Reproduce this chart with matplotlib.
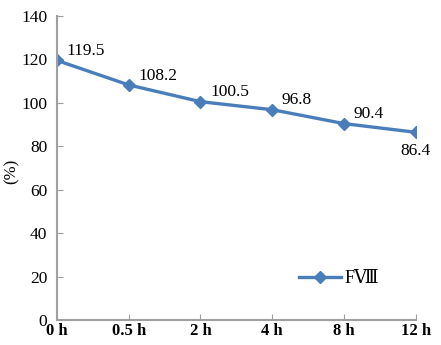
import matplotlib.pyplot as plt

# data
times = ['0 h', '0.5 h', '2 h', '4 h', '8 h', '12 h']
fviii = [119.5, 108.2, 100.5, 96.8, 90.4, 86.4]
yticks = [0, 20, 40, 60, 80, 100, 120, 140]

plt.rcParams['font.family'] = ['Liberation Serif', 'DejaVu Serif']

fig = plt.figure(figsize=(4.41, 3.45), dpi=100)
ax = fig.add_axes([0.129, 0.0725, 0.814, 0.8815])

x = list(range(len(times)))
ax.plot(x, fviii, color='#4a7ebb', lw=2.4, marker='D', ms=6.5, label='FⅧ')

# value labels
for i, v in enumerate(fviii):
    if i == len(fviii) - 1:
        ax.annotate(f'{v}', (i, v), xytext=(0, -8), textcoords='offset points',
                    ha='center', va='top', fontsize=12.5)
    else:
        ax.annotate(f'{v}', (i, v), xytext=(7, 1), textcoords='offset points',
                    ha='left', va='bottom', fontsize=12.5)

ax.set_xlim(0, len(times) - 1)
ax.set_ylim(0, 140)
ax.set_xticks(x)
ax.set_xticklabels(times, fontsize=12, fontweight='bold')
ax.set_yticks(yticks)
ax.tick_params(axis='y', labelsize=12.5, length=4, direction='in',
               color='#a0a0a0', pad=7)
ax.tick_params(axis='x', length=4, direction='in', color='#a0a0a0', pad=2)
for s in ['top', 'right']:
    ax.spines[s].set_visible(False)
for s in ['left', 'bottom']:
    ax.spines[s].set_color('#a0a0a0')
    ax.spines[s].set_linewidth(1.5)
ax.text(-0.125, 0.49, '(%)', transform=ax.transAxes, rotation=90,
        ha='center', va='center', fontsize=12)

ax.legend(loc='lower left', bbox_to_anchor=(0.63, 0.055), frameon=False,
          fontsize=13, handlelength=2.3, handletextpad=0.2)

fig.savefig('out.png', dpi=100)
